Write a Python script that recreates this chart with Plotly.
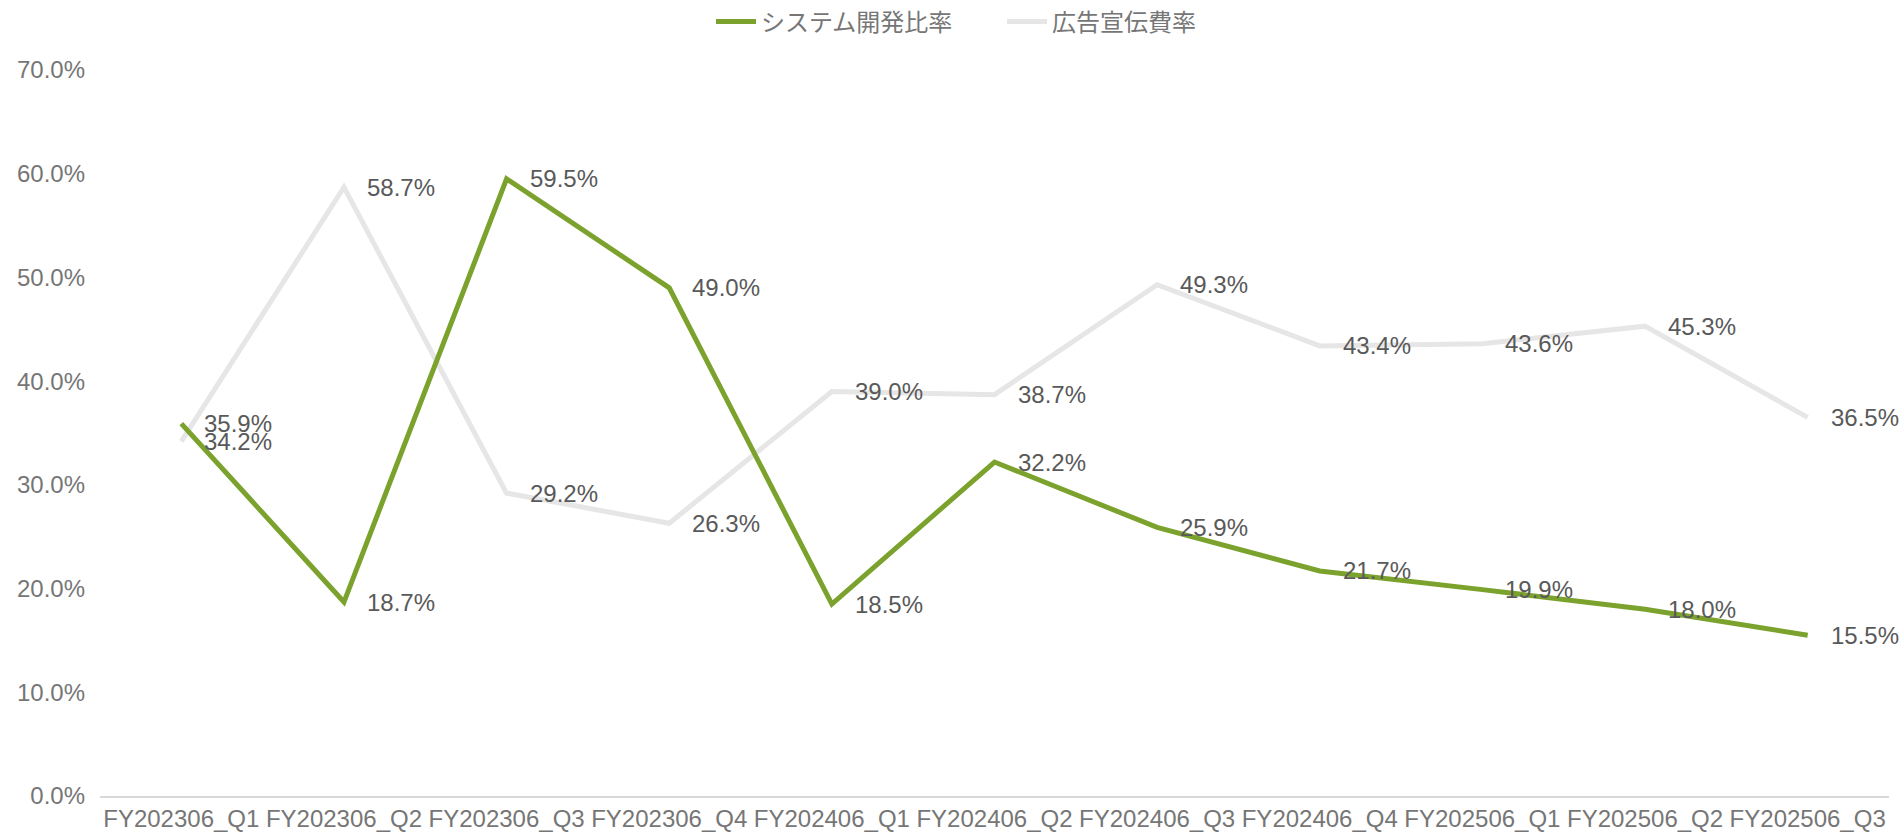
import plotly.graph_objects as go

categories = ["FY202306_Q1", "FY202306_Q2", "FY202306_Q3", "FY202306_Q4",
              "FY202406_Q1", "FY202406_Q2", "FY202406_Q3", "FY202406_Q4",
              "FY202506_Q1", "FY202506_Q2", "FY202506_Q3"]
system_dev = [35.9, 18.7, 59.5, 49.0, 18.5, 32.2, 25.9, 21.7, 19.9, 18.0, 15.5]
advertising = [34.2, 58.7, 29.2, 26.3, 39.0, 38.7, 49.3, 43.4, 43.6, 45.3, 36.5]
y_ticks = [0, 10, 20, 30, 40, 50, 60, 70]

FONT = "Liberation Sans, Arial, Noto Sans CJK JP, sans-serif"
GREEN = "#7BA22D"
GREY = "#E7E6E6"
LABEL = "#595959"
TICK = "#767676"

W, H = 1904, 837

x_idx = list(range(len(categories)))

fig = go.Figure()
fig.add_trace(go.Scatter(x=x_idx, y=advertising, mode="lines", name="広告宣伝費率",
                         line=dict(color=GREY, width=5), legendrank=2))
fig.add_trace(go.Scatter(x=x_idx, y=system_dev, mode="lines", name="システム開発比率",
                         line=dict(color=GREEN, width=5), legendrank=1))

for series in (system_dev, advertising):
    for i, v in enumerate(series):
        fig.add_annotation(x=i, y=v, text=f"{v:.1f}%", showarrow=False,
                           xanchor="left", yanchor="middle", xshift=21,
                           font=dict(family=FONT, size=24, color=LABEL))

fig.update_layout(
    width=W, height=H,
    margin=dict(l=100, r=15, t=70, b=41),
    paper_bgcolor="white", plot_bgcolor="white",
    font=dict(family=FONT, size=24, color=TICK),
    showlegend=True,
    legend=dict(orientation="h", xref="container", yref="container",
                x=711 / W, xanchor="left", y=1 - 22 / H, yanchor="middle",
                font=dict(family=FONT, size=24, color=TICK), itemwidth=40,
                entrywidth=236, entrywidthmode="pixels", tracegroupgap=0),
    xaxis=dict(range=[-0.5, 10.5], tickmode="array", tickvals=x_idx,
               ticktext=categories, showgrid=False, zeroline=False,
               showline=True, linecolor="#D9D9D9", linewidth=2,
               ticks="", automargin=False,
               tickfont=dict(family=FONT, size=24, color=TICK)),
    yaxis=dict(range=[0, 70], tickmode="array", tickvals=y_ticks,
               ticktext=[f"{t:.1f}%" for t in y_ticks], showgrid=False,
               zeroline=False, showline=False, ticks="", automargin=False,
               ticklabelstandoff=14,
               tickfont=dict(family=FONT, size=24, color=TICK)),
)

fig.write_html(
    "out.html",
    config={"displayModeBar": False},
    post_script="document.body.style.margin='0';document.body.style.overflow='hidden';",
)
